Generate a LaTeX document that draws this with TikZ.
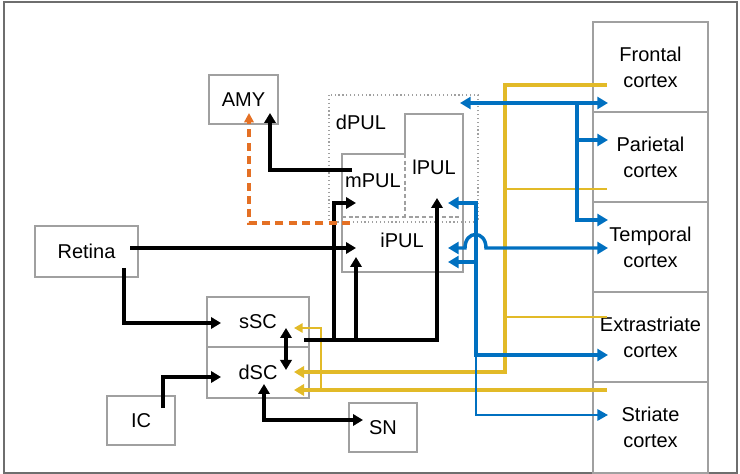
\documentclass[tikz,border=0pt]{standalone}
\usepackage{fontspec}
\setmainfont{Liberation Sans}
\usetikzlibrary{arrows.meta,positioning}
\definecolor{boxgray}{RGB}{160,160,160}
\definecolor{framegray}{RGB}{110,110,110}
\definecolor{pathblue}{RGB}{0,112,192}
\definecolor{pathgold}{RGB}{226,186,40}
\definecolor{pathorange}{RGB}{228,112,36}
\tikzset{
  area/.style={rectangle,draw=boxgray,line width=1.5pt,align=center,inner sep=0pt,
    font=\fontsize{15}{19}\selectfont},
  small/.style={area,minimum width=51pt,minimum height=36.75pt},
  ctx/.style={area,minimum width=86.25pt,minimum height=67.5pt},
  lbl/.style={inner sep=0pt,font=\fontsize{15}{19}\selectfont},
  tract/.style={line width=3pt,->},
  blueK/.style={pathblue,line width=3pt,->,>={Triangle[length=8pt,width=9pt]}},
  blueN/.style={pathblue,line width=1.6pt,->,>={Triangle[length=8pt,width=8.5pt]}},
  goldK/.style={pathgold,line width=3pt,->},
  goldN/.style={pathgold,line width=1.3pt},
}
\begin{document}
\begin{tikzpicture}[x=0.75pt,y=-0.75pt,>={Triangle[length=7.5pt,width=8.5pt]}]
\useasboundingbox (0,0) rectangle (740,474);
\draw[framegray,line width=1.4pt] (4,2) rectangle (737,473);

% boxes
\node[small,minimum width=51.75pt] (AMY) at (243.5,99.5) {AMY};
\node[area,minimum width=77.25pt,minimum height=38.25pt] (Retina) at (86.5,251.5) {Retina};
\node[area,minimum width=76.5pt,minimum height=37.9pt] (sSC) at (258,322) {sSC};
\node[area,minimum width=76.5pt,minimum height=37.9pt,below=-1.5pt of sSC] (dSC) {dSC};
\node[small] (IC) at (141,420.5) {IC};
\node[small] (SN) at (383,427.5) {SN};
\node[ctx] (Frontal) at (650.5,67.5) {Frontal\\cortex};
\node[ctx,below=-1.5pt of Frontal] (Parietal) {Parietal\\cortex};
\node[ctx,below=-1.5pt of Parietal] (Temporal) {Temporal\\cortex};
\node[ctx,below=-1.5pt of Temporal] (Extrastriate) {Extrastriate\\cortex};
\node[ctx,below=-1.5pt of Extrastriate] (Striate) {Striate\\cortex};

% pulvinar
\draw[boxgray,line width=0.9pt,dotted] (329,95) rectangle (478,222);
\draw[boxgray,line width=1.4pt] (342,154) -- (405,154) -- (405,114) -- (463,114)
  -- (463,272) -- (342,272) -- cycle;
\draw[boxgray,line width=1pt,dash pattern=on 3pt off 2pt] (342,217) -- (463,217)
  (405,154) -- (405,217);
\node[lbl] (dPUL) at (361,122) {dPUL};
\node[lbl] (lPUL) at (434,167) {lPUL};
\node[lbl] (mPUL) at (373,181) {mPUL};
\node[lbl] (iPUL) at (402,240) {iPUL};

\coordinate (mIn) at (356,203);
\coordinate (mTurn) at (334,203);
\coordinate (lIn) at (437,198);
\coordinate (iInR) at (356,248);
\coordinate (iInS) at (356,257);
\coordinate (mOut) at (352,170);
\coordinate (mOutD) at (350,223);
\coordinate (dInB) at (460,103);
\coordinate (lInB) at (448,203);
\coordinate (iInB1) at (448,248);
\coordinate (iInB2) at (448,262);

% subcortical
\coordinate (retR) at (130,248);
\coordinate (retD) at (124,268);
\coordinate (sSCin) at (221,323);
\coordinate (icUp) at (163,408);
\coordinate (dSCin) at (221,377);
\coordinate (dSCbot) at (264,384);
\coordinate (SNin) at (363,420);
\coordinate (scTop) at (286,328);
\coordinate (scBot) at (286,370);
\coordinate (scOut) at (304,340);
\coordinate (amyR) at (270,113);
\coordinate (amyL) at (249,113);

% cortex ends
\coordinate (frB) at (608,103);
\coordinate (parB) at (608,140);
\coordinate (temB1) at (608,220);
\coordinate (temB2) at (608,248);
\coordinate (extB) at (608,355);
\coordinate (strB) at (608,415);
\coordinate (bTop) at (577,103);
\coordinate (bDown) at (476,355);
\coordinate (hopL) at (465,248);
\coordinate (hopR) at (486,248);
\coordinate (frG) at (607,85);
\coordinate (parG) at (607,189);
\coordinate (extG) at (607,317);
\coordinate (strG) at (607,390);
\coordinate (gCorner) at (505,372);
\coordinate (gUp) at (321,390);
\coordinate (dSCg1) at (294,372);
\coordinate (dSCg2) at (294,390);
\coordinate (sSCg) at (294,328);

% gold
\draw[goldN] (parG) -- (parG -| gCorner);
\draw[goldN] (extG) -- (extG -| gCorner);
\draw[goldK] (frG) -| (gCorner) -- (dSCg1);
\draw[goldK,line width=2.5pt] (strG) -- (dSCg2);
\draw[goldN,line width=1.6pt,->,>={Triangle[length=6.5pt,width=7pt]}] (gUp) |- (sSCg);

% black
\draw[tract] (retR) -- (iInR);
\draw[tract] (retD) |- (sSCin);
\draw[tract] (icUp) |- (dSCin);
\draw[tract,<->] (dSCbot) |- (SNin);
\draw[tract,<->] (scTop) -- (scBot);
\draw[tract] (scOut) -| (lIn);
\draw[tract] (scOut -| mTurn) -- (mTurn) -- (mIn);
\draw[tract] (scOut -| iInS) -- (iInS);
\draw[tract] (mOut) -| (amyR);
\draw[pathorange,line width=2.8pt,dash pattern=on 6pt off 4pt,->,
  >={Triangle[length=7pt,width=7pt]}] (mOutD) -| (amyL);

% blue
\draw[blueK,<->,line width=2.6pt] (dInB) -- (frB);
\draw[blueK,line width=2.6pt] (bTop) |- (temB1);
\draw[blueK,line width=2.6pt] (bTop |- parB) -- (parB);
\draw[blueK,<->,line width=2.6pt] (iInB1) -- (hopL)
  .. controls (465,230) and (486,230) .. (hopR) -- (temB2);
\draw[blueK,<->,line width=3.6pt] (lInB) -| (bDown) -- (extB);
\draw[blueK] (bDown |- iInB2) -- (iInB2);
\draw[blueN] (bDown) |- (strB);
\end{tikzpicture}
\end{document}
